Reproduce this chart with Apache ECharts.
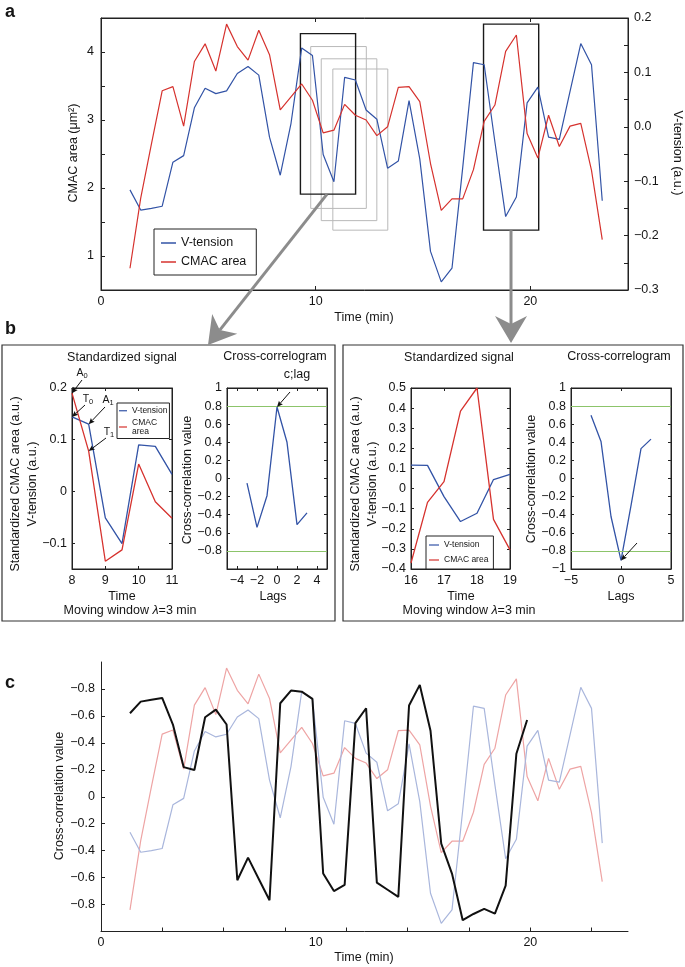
<!DOCTYPE html>
<html><head><meta charset="utf-8">
<script src="https://cdn.jsdelivr.net/npm/echarts@6/dist/echarts.min.js"></script>
<style>html,body{margin:0;padding:0;background:#fff}#c{width:685px;height:967px}</style>
</head><body><div id="c"></div>
<script>
// ---------------- data ----------------
const times = [1.35,1.85,2.35,2.85,3.35,3.85,4.35,4.85,5.35,5.85,6.35,6.85,7.35,7.85,8.35,8.85,9.35,9.85,10.35,10.85,11.35,11.85,12.35,12.85,13.35,13.85,14.35,14.85,15.35,15.85,16.35,16.85,17.35,17.85,18.35,18.85,19.35,19.85,20.35,20.85,21.35,21.85,22.35,22.85,23.35];
const cmacArea = [0.82,1.85,2.65,3.43,3.49,2.91,3.86,4.12,3.72,4.41,4.08,3.88,4.32,3.96,3.15,3.34,3.53,3.29,2.81,2.85,3.23,3.07,3.00,2.77,2.90,3.48,3.49,3.27,2.36,1.67,1.84,1.84,2.27,2.98,3.22,4.01,4.25,2.80,2.44,3.07,2.61,2.91,2.95,2.26,1.24];
const vTension = [-0.116,-0.153,-0.150,-0.146,-0.065,-0.053,0.035,0.071,0.061,0.066,0.098,0.111,0.095,-0.019,-0.089,0.006,0.145,0.131,-0.051,-0.101,0.091,0.086,0.031,0.014,-0.076,-0.063,0.048,-0.059,-0.229,-0.285,-0.260,-0.075,0.118,0.114,-0.028,-0.165,-0.129,0.044,0.073,-0.019,-0.023,0.065,0.153,0.114,-0.136];
const corrTimes = [1.35,1.85,2.35,2.85,3.35,3.85,4.35,4.85,5.35,5.85,6.35,6.85,7.35,7.85,8.35,8.85,9.35,9.85,10.35,10.85,11.35,11.85,12.35,12.85,13.35,13.85,14.35,14.85,15.35,15.85,16.35,16.85,17.35,17.85,18.35,18.85,19.35,19.85];
const crossCorr = [0.62,0.706,0.72,0.733,0.536,0.22,0.198,0.59,0.647,0.536,-0.62,-0.452,-0.61,-0.768,0.694,0.788,0.78,0.726,-0.57,-0.70,-0.654,0.546,0.657,-0.637,-0.69,-0.743,0.677,0.83,0.49,-0.348,-0.57,-0.916,-0.87,-0.832,-0.867,-0.66,0.319,0.57];
// analysis windows drawn on panel a (time, CMAC-area units)
const boxStart = [9.77,10.26,10.80,9.29,17.82];
const boxEnd = [12.36,12.85,13.36,11.86,20.39];
const boxTop = [4.08,3.90,3.75,4.27,4.41];
const boxBottom = [1.70,1.52,1.38,1.91,1.38];
// panel b
const winTimeB1 = [8,8.5,9,9.5,10,10.5,11];
const b1Tension = [0.144,0.130,-0.051,-0.101,0.090,0.087,0.033];
const b1Area = [0.190,0.078,-0.135,-0.113,0.053,-0.020,-0.052];
const lags = [-3,-2,-1,0,1,2,3];
const b2Corr = [-0.05,-0.54,-0.19,0.79,0.40,-0.51,-0.38];
const winTimeB3 = [16,16.5,17,17.5,18,18.5,19];
const b3Tension = [0.117,0.115,-0.04,-0.164,-0.123,0.045,0.071];
const b3Area = [-0.37,-0.069,0.034,0.385,0.50,-0.153,-0.305];
const b4Corr = [0.70,0.41,-0.42,-0.905,-0.30,0.33,0.435];
const corrThresholds = [0.8,-0.8];
// ticks & labels
const timeLabelsA = [0,10,20];
const timeTicksC = [2.857,5.714,8.571,11.429,14.286,17.143,20,22.857];
const areaTicks = [1,1.5,2,2.5,3,3.5,4];
const areaLabels = [1,2,3,4];
const tensionTicks = [-0.25,-0.2,-0.15,-0.1,-0.05,0,0.05,0.1,0.15];
const tensionLabelValues = [-0.3,-0.2,-0.1,0,0.1,0.2];
const tensionLabelText = ['\u22120.3','\u22120.2','\u22120.1','0.0','0.1','0.2'];
const cCorrTicks = [-0.8,-0.6,-0.4,-0.2,0,0.2,0.4,0.6,0.8];
const cCorrLabels = ['\u22120.8','\u22120.6','\u22120.4','\u22120.2','0','\u22120.2','\u22120.4','\u22120.6','\u22120.8'];
const b1Ticks = [-0.1,0,0.1,0.2];
const b1XTicks = [8,9,10,11];
const b2XTicks = [-4,-2,0,2,4];
const b2YTicks = [-0.8,-0.6,-0.4,-0.2,0,0.2,0.4,0.6,0.8,1];
const b3XTicks = [16,17,18,19];
const b3YTicks = [-0.4,-0.3,-0.2,-0.1,0,0.1,0.2,0.3,0.4,0.5];
const b4XTicks = [-5,0,5];
const b4YTicks = [-1,-0.8,-0.6,-0.4,-0.2,0,0.2,0.4,0.6,0.8,1];

// ---------------- style ----------------
const FONT = '"Liberation Sans", Arial, Helvetica, sans-serif';
const AX = '#222', TXT = '#151515';
const BLUE = '#3253a6', RED = '#d6322e', GREEN = '#8cc46a', FBLUE = '#a9b6dc', FRED = '#eea4a4';
const FS = 12.5;

function zip(xs, ys){ return xs.map((x,i)=>[x, ys[i]]); }
function minus(v){ return String(+v.toFixed(3)).replace('-', '\u2212'); }
function lab(custom, fmt, margin){
  return {show:true, customValues:custom, formatter:fmt||minus, color:TXT, fontFamily:FONT, fontSize:FS, margin:margin||5};
}
function axisBase(o){
  return Object.assign({type:'value', splitLine:{show:false},
    axisLine:{show:true, onZero:false, lineStyle:{color:AX, width:1}}}, o);
}
function tk(custom, len){ return {show:true, inside:true, length:len||4, customValues:custom, lineStyle:{color:AX, width:1}}; }
const noLab = {show:false};

const xAxis = [
  axisBase({gridIndex:0, min:0, max:24.55, position:'bottom', axisLabel:lab(timeLabelsA, null, 5), axisTick:tk([10,20])}),
  axisBase({gridIndex:0, min:0, max:24.55, position:'top', axisLabel:noLab, axisTick:tk([10,20])}),
  axisBase({gridIndex:1, min:8, max:11, position:'bottom', axisLabel:lab(b1XTicks), axisTick:tk(b1XTicks,3)}),
  axisBase({gridIndex:1, min:8, max:11, position:'top', axisLabel:noLab, axisTick:tk(b1XTicks,3)}),
  axisBase({gridIndex:2, min:-5, max:5, position:'bottom', axisLabel:lab(b2XTicks), axisTick:tk(b2XTicks,3)}),
  axisBase({gridIndex:2, min:-5, max:5, position:'top', axisLabel:noLab, axisTick:tk(b2XTicks,3)}),
  axisBase({gridIndex:3, min:16, max:19, position:'bottom', axisLabel:lab(b3XTicks), axisTick:tk(b3XTicks,3)}),
  axisBase({gridIndex:3, min:16, max:19, position:'top', axisLabel:noLab, axisTick:tk(b3XTicks,3)}),
  axisBase({gridIndex:4, min:-5, max:5, position:'bottom', axisLabel:lab(b4XTicks), axisTick:tk(b4XTicks,3)}),
  axisBase({gridIndex:4, min:-5, max:5, position:'top', axisLabel:noLab, axisTick:tk(b4XTicks,3)}),
  axisBase({gridIndex:5, min:0, max:24.55, position:'bottom', axisLabel:lab(timeLabelsA, null, 5), axisTick:tk(timeTicksC)})
];
const yAxis = [
  axisBase({gridIndex:0, min:0.5, max:4.5, position:'left', axisLabel:lab(areaLabels, null, 7), axisTick:tk(areaTicks)}),
  axisBase({gridIndex:0, min:-0.3, max:0.2, position:'right',
    axisLabel:lab(tensionLabelValues, v=>tensionLabelText[tensionLabelValues.findIndex(t=>Math.abs(t-v)<1e-6)], 6), axisTick:tk(tensionTicks)}),
  axisBase({gridIndex:1, min:-0.15, max:0.2, position:'left', axisLabel:lab(b1Ticks), axisTick:tk(b1Ticks,3)}),
  axisBase({gridIndex:1, min:-0.15, max:0.2, position:'right', axisLabel:noLab, axisTick:tk(b1Ticks,3)}),
  axisBase({gridIndex:2, min:-1, max:1, position:'left', axisLabel:lab(b2YTicks), axisTick:tk(b2YTicks,3)}),
  axisBase({gridIndex:2, min:-1, max:1, position:'right', axisLabel:noLab, axisTick:tk(b2YTicks,3)}),
  axisBase({gridIndex:3, min:-0.4, max:0.5, position:'left', axisLabel:lab(b3YTicks), axisTick:tk(b3YTicks,3)}),
  axisBase({gridIndex:3, min:-0.4, max:0.5, position:'right', axisLabel:noLab, axisTick:tk(b3YTicks,3)}),
  axisBase({gridIndex:4, min:-1, max:1, position:'left', axisLabel:lab(b4YTicks), axisTick:tk(b4YTicks,3)}),
  axisBase({gridIndex:4, min:-1, max:1, position:'right', axisLabel:noLab, axisTick:tk(b4YTicks,3)}),
  axisBase({gridIndex:5, min:-1, max:1, position:'left',
    axisLabel:lab(cCorrTicks, v=>cCorrLabels[cCorrTicks.findIndex(t=>Math.abs(t-v)<1e-6)], 6), axisTick:tk(cCorrTicks)}),
  axisBase({gridIndex:5, min:0.5, max:4.5, show:false}),
  axisBase({gridIndex:5, min:-0.3, max:0.2, show:false})
];
const gridBox = {show:true, borderColor:AX, borderWidth:1, backgroundColor:'#fff'};
const grid = [
  Object.assign({left:101, top:18, width:527, height:272}, gridBox),
  Object.assign({left:72, top:388, width:100, height:181}, gridBox),
  Object.assign({left:227, top:388, width:100, height:181}, gridBox),
  Object.assign({left:411, top:388, width:99, height:181}, gridBox),
  Object.assign({left:571, top:388, width:100, height:181}, gridBox),
  {left:101, top:662, width:527, height:269.5, show:false}
];

function line(name, xi, yi, data, color, width, z){
  return {type:'line', name, xAxisIndex:xi, yAxisIndex:yi, data, symbol:'none', silent:true,
    lineStyle:{color, width:width||1.2}, itemStyle:{color}, z:z||3};
}
const boxAreas = boxStart.map((s,i)=>[
  {xAxis:s, yAxis:boxTop[i], itemStyle:{color:'rgba(0,0,0,0)', borderColor: i<3 ? '#b9b9b9' : '#1a1a1a', borderWidth: i<3 ? 1 : 1.4}},
  {xAxis:boxEnd[i], yAxis:boxBottom[i]}
]);
const threshold = {silent:true, symbol:['none','none'], label:{show:false},
  lineStyle:{color:GREEN, type:'solid', width:1}, data:corrThresholds.map(v=>({yAxis:v}))};

const series = [
  line('V-tension', 0, 1, zip(times, vTension), BLUE),
  Object.assign(line('CMAC area', 0, 0, zip(times, cmacArea), RED),
    {markArea:{silent:true, label:{show:false}, data:boxAreas}}),
  line('V-tension', 2, 2, zip(winTimeB1, b1Tension), BLUE, 1.3),
  line('CMAC area', 2, 2, zip(winTimeB1, b1Area), RED, 1.3),
  Object.assign(line('corrB1', 4, 4, zip(lags, b2Corr), BLUE, 1.3), {markLine:threshold}),
  line('V-tension', 6, 6, zip(winTimeB3, b3Tension), BLUE, 1.3),
  line('CMAC area', 6, 6, zip(winTimeB3, b3Area), RED, 1.3),
  Object.assign(line('corrB3', 8, 8, zip(lags, b4Corr), BLUE, 1.3), {markLine:threshold}),
  line('cArea', 10, 11, zip(times, cmacArea), FRED, 1.2, 2),
  line('cTension', 10, 12, zip(times, vTension), FBLUE, 1.2, 2),
  line('cCorr', 10, 10, zip(corrTimes, crossCorr), '#111', 2, 4)
];

const legBase = {orient:'vertical', icon:'rect', borderColor:AX, borderWidth:1, backgroundColor:'#fff',
  selectedMode:false, data:['V-tension','CMAC area']};
const legend = [
  Object.assign({}, legBase, {left:154, top:229, padding:[7,10,6,7], itemWidth:15, itemHeight:1.5, itemGap:5,
    textStyle:{fontFamily:FONT, fontSize:FS, color:TXT, lineHeight:14}}),
  Object.assign({}, legBase, {left:117, top:403, padding:[3,2,2,2], itemWidth:8, itemHeight:1.2, itemGap:2,
    formatter:n=>n==='CMAC area'?'CMAC\narea':n,
    textStyle:{fontFamily:FONT, fontSize:8.5, color:TXT, lineHeight:9.5}}),
  Object.assign({}, legBase, {left:426, top:536, padding:[4,5,4,3], itemWidth:10, itemHeight:1.2, itemGap:5,
    textStyle:{fontFamily:FONT, fontSize:8.5, color:TXT, lineHeight:10}})
];

const chart = echarts.init(document.getElementById('c'));
chart.setOption({animation:false, backgroundColor:'#fff', grid, xAxis, yAxis, series, legend});

// ---------------- annotations ----------------
function T(text, x, y, o){
  o = o || {};
  return {type:'text', x, y, rotation:o.rot||0, z:50, silent:true,
    style:{text, fill:TXT, font:(o.weight||'normal')+' '+(o.size||FS)+'px '+FONT,
      align:o.align||'center', verticalAlign:'middle', rich:o.rich}};
}
function arrow(p0, p1, o){
  const dx=p1[0]-p0[0], dy=p1[1]-p0[1], len=Math.hypot(dx,dy), ux=dx/len, uy=dy/len, px=-uy, py=ux;
  const bx=p1[0]-ux*o.head, by=p1[1]-uy*o.head, nx=p1[0]-ux*o.notch, ny=p1[1]-uy*o.notch;
  return [
    {type:'line', z:60, silent:true, shape:{x1:p0[0], y1:p0[1], x2:nx, y2:ny}, style:{stroke:o.color, lineWidth:o.lw}},
    {type:'polygon', z:60, silent:true, shape:{points:[[p1[0],p1[1]],[bx+px*o.half,by+py*o.half],[nx,ny],[bx-px*o.half,by-py*o.half]]},
      style:{fill:o.color}}
  ];
}
const px = (xi, yi, pt) => chart.convertToPixel({xAxisIndex:xi, yAxisIndex:yi}, pt);
const thin = {head:6, half:2.6, notch:5, color:'#111', lw:1};
const gray = {head:27, half:16, notch:19, color:'#8c8c8c', lw:3};

const leftStart = px(0, 0, [10.53, boxBottom[3]]);
const rightStart = px(0, 0, [19.1, boxBottom[4]]);
const it = {fontStyle:'italic', font:'italic '+FS+'px '+FONT, fill:TXT};
const subRich = {m:{font:'10.5px '+FONT, fill:TXT, lineHeight:14, verticalAlign:'middle'},
                 s:{font:'7.5px '+FONT, fill:TXT, lineHeight:14, padding:[6,0,0,0], verticalAlign:'middle'}};
function sub(letter, idx, x, y){ return T('{m|'+letter+'}{s|'+idx+'}', x, y, {rich:subRich}); }

const graphic = [
  T('a', 5, 12, {align:'left', weight:'bold', size:18}),
  T('b', 5, 329, {align:'left', weight:'bold', size:18}),
  T('c', 5, 683, {align:'left', weight:'bold', size:18}),
  T('Time (min)', 364, 318),
  T('Time (min)', 364, 958),
  T('CMAC area (\u03bcm\u00b2)', 74, 153, {rot:Math.PI/2}),
  T('V-tension (a.u.)', 677, 153, {rot:-Math.PI/2}),
  T('Cross-correlation value', 60, 796, {rot:Math.PI/2}),
  {type:'rect', z:1, silent:true, shape:{x:2, y:345, width:333, height:276}, style:{fill:'none', stroke:'#333', lineWidth:1.2}},
  {type:'rect', z:1, silent:true, shape:{x:343, y:345, width:340, height:276}, style:{fill:'none', stroke:'#333', lineWidth:1.2}},
  T('Standardized signal', 122, 358),
  T('Standardized signal', 459, 358),
  T('Cross-correlogram', 275, 357),
  T('Cross-correlogram', 619, 357),
  T('c;lag', 297, 375),
  T('Standardized CMAC area (a.u.)', 16, 484, {rot:Math.PI/2}),
  T('V-tension (a.u.)', 33, 484, {rot:Math.PI/2}),
  T('Standardized CMAC area (a.u.)', 356, 484, {rot:Math.PI/2}),
  T('V-tension (a.u.)', 373, 484, {rot:Math.PI/2}),
  T('Cross-correlation value', 188, 480, {rot:Math.PI/2}),
  T('Cross-correlation value', 532, 479, {rot:Math.PI/2}),
  T('Time', 122, 597),
  T('Time', 461, 597),
  T('Lags', 273, 597),
  T('Lags', 621, 597),
  T('Moving window {i|\u03bb}=3 min', 130, 611, {rich:{i:it}}),
  T('Moving window {i|\u03bb}=3 min', 469, 611, {rich:{i:it}}),
  sub('A', '0', 82, 373),
  sub('T', '0', 88, 399),
  sub('A', '1', 108, 400),
  sub('T', '1', 109, 432)
].concat(
  arrow([82,380], px(2,2,[winTimeB1[0], b1Area[0]]), thin),
  arrow([85,405], px(2,2,[winTimeB1[0], b1Tension[0]]), thin),
  arrow([105,407], px(2,2,[winTimeB1[1], b1Tension[1]]), thin),
  arrow([106,438], px(2,2,[winTimeB1[1], b1Area[1]]), thin),
  arrow([290,392], px(4,4,[lags[3], b2Corr[3]]), thin),
  arrow([637,543], px(8,8,[lags[3], b4Corr[3]]), thin),
  arrow(leftStart, [208,345], gray),
  arrow(rightStart, [rightStart[0],343], gray)
);
chart.setOption({graphic});
</script></body></html>
